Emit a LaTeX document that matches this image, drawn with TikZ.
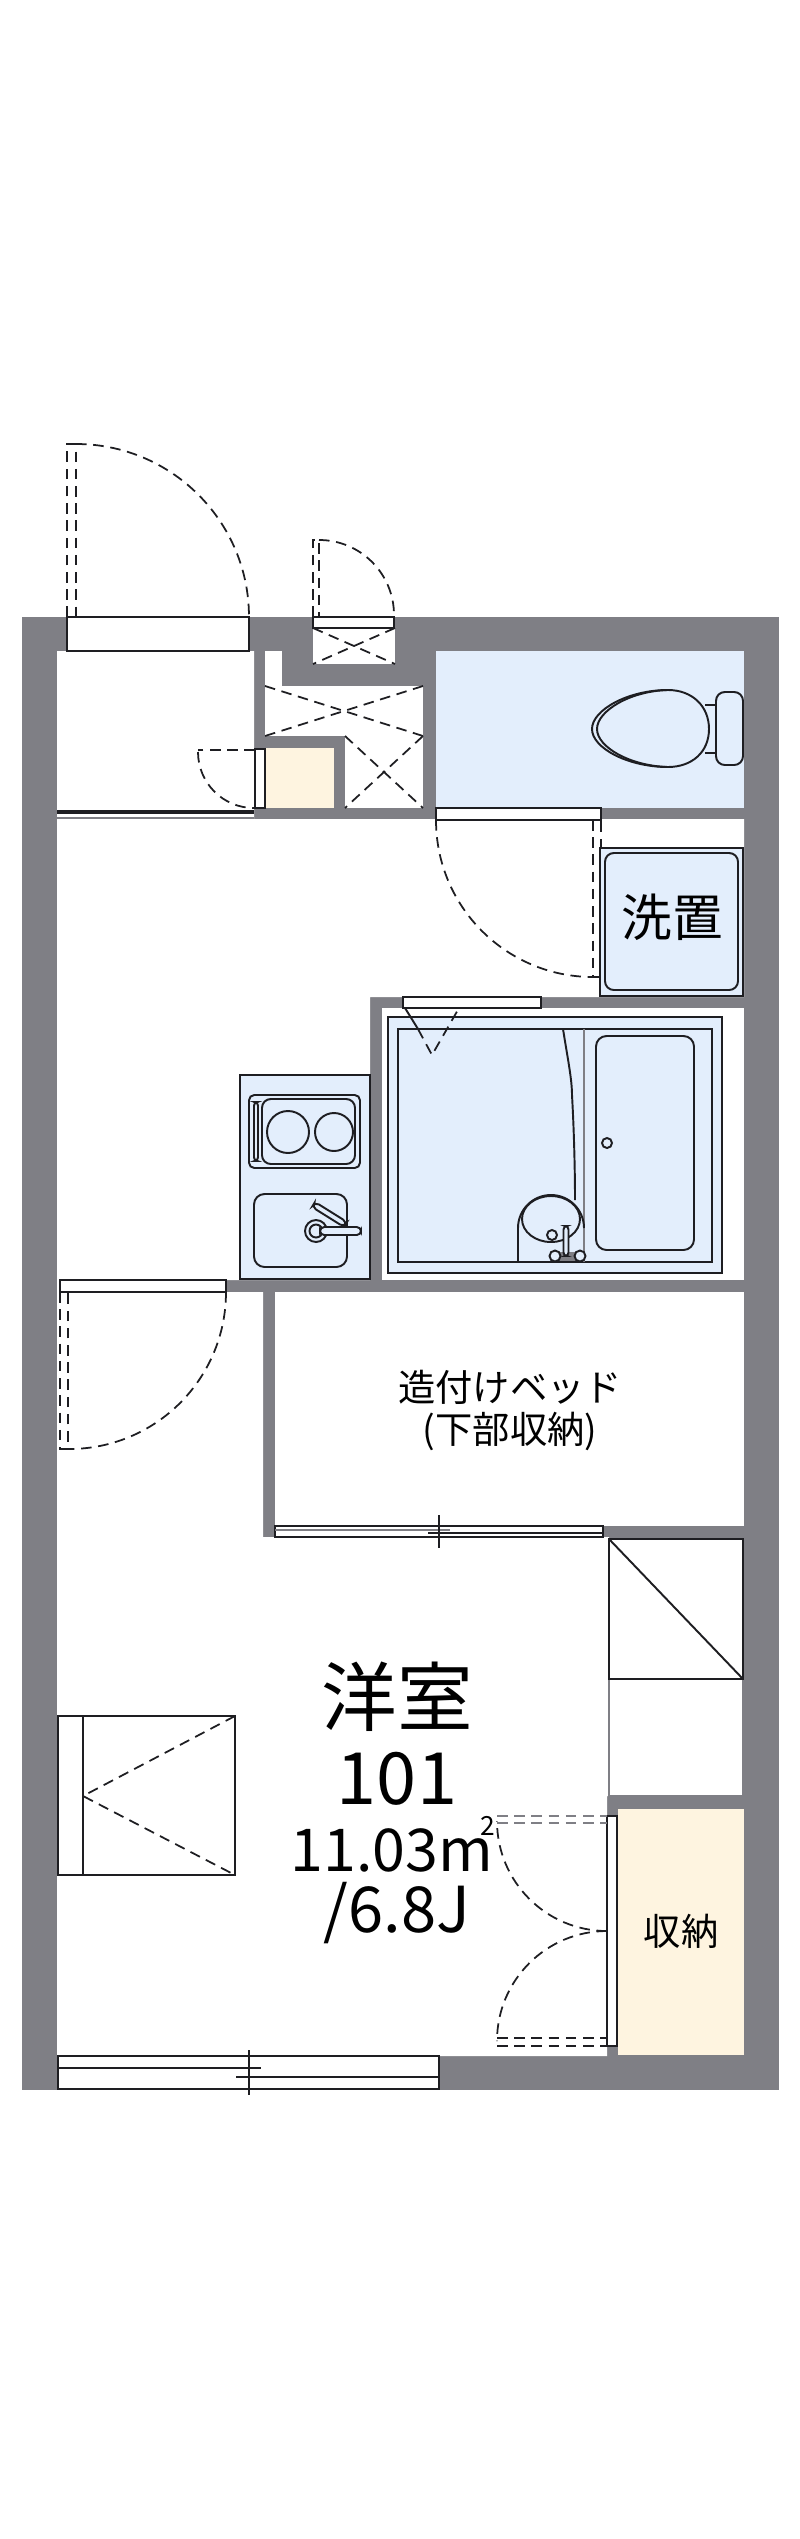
\documentclass[tikz,border=0pt]{standalone}
\usepackage{fontspec}
\setmainfont{Noto Sans CJK JP}
\usetikzlibrary{positioning}
\definecolor{wallgray}{HTML}{7F7F85}
\definecolor{wetblue}{HTML}{E3EEFC}
\definecolor{storebeige}{HTML}{FEF4E0}
\definecolor{inkline}{HTML}{1E1E22}

\begin{document}
\begin{tikzpicture}[
        x=0.01cm, y=0.01cm,
        every node/.style={text=black, inner sep=0pt, align=center},
        solidline/.style={draw=inkline, line width=0.55pt},
        fixture/.style={solidline, fill=wetblue},
        openbox/.style={solidline, fill=white},
        dashline/.style={draw=inkline, line width=0.5pt, dash pattern=on 3pt off 1.9pt},
        biglabel/.style={font=\fontsize{21.5pt}{21.5pt}\selectfont},
        numlabel/.style={font=\fontsize{20.5pt}{20.5pt}\selectfont},
        midlabel/.style={font=\fontsize{18pt}{18pt}\selectfont},
        arealabel/.style={font=\fontsize{16.8pt}{16.8pt}\selectfont},
        washlabel/.style={font=\fontsize{14.4pt}{14.4pt}\selectfont},
        smalllabel/.style={font=\fontsize{10.6pt}{10.6pt}\selectfont}
    ]
    \useasboundingbox (0,0) rectangle (800,-2539);

    % Walls and rooms
    \fill[wallgray] (22,-617) rectangle (779,-2090);
    \fill[white] (57,-651) -- (254,-651) -- (254,-819) -- (744,-819) -- (744,-997) -- (370,-997) -- (370,-1280)
        -- (226,-1280) -- (226,-1292) -- (263,-1292) -- (263,-1537) -- (609,-1537) -- (609,-1796) -- (607,-1796)
        -- (607,-2056) -- (57,-2056) -- cycle;
    \fill[white] (382,-1008) rectangle (744,-1280);
    \fill[white] (275,-1292) rectangle (744,-1526);
    \fill[white] (609,-1538) rectangle (743,-1796);
    \fill[white] (265,-651) rectangle (282,-686);
    \fill[white] (265,-686) rectangle (423,-736);
    \fill[white] (345,-736) rectangle (423,-808);
    \fill[white] (313,-628) rectangle (395,-664);
    \fill[wetblue] (436,-651) rectangle (744,-808);
    \fill[storebeige] (266,-748) rectangle (334,-808);
    \fill[storebeige] (618,-1809) rectangle (744,-2055);

    % Entrance
    \draw[openbox] (67,-617) rectangle (249,-651);
    \draw[dashline] (67,-617) -- (67,-444) -- (76,-444) -- (76,-617);
    \draw[dashline] (76,-444) arc[start angle=90, end angle=0, radius=173];
    \draw[solidline, line width=0.9pt] (57,-812) -- (254,-812);
    \draw[draw=wallgray, line width=0.45pt] (57,-818) -- (254,-818);

    % Meter box
    \draw[openbox] (313,-617) rectangle (394,-628);
    \draw[dashline] (313,-617) -- (313,-540) -- (319,-540) -- (319,-617);
    \draw[dashline] (319,-540) arc[start angle=90, end angle=0, radius=75];
    \draw[dashline] (313,-628) -- (395,-664);
    \draw[dashline] (395,-628) -- (313,-664);

    % Shaft crosses
    \draw[dashline] (265,-686) -- (423,-736);
    \draw[dashline] (423,-686) -- (265,-736);
    \draw[dashline] (345,-736) -- (423,-808);
    \draw[dashline] (423,-736) -- (345,-808);

    % Cupboard door in the hall
    \draw[openbox] (255,-749) rectangle (265,-808);
    \draw[dashline, line width=0.8pt] (255,-750) -- (198,-750);
    \draw[dashline] (198,-752) arc[start angle=180, end angle=270, radius=56];

    % Toilet
    \draw[openbox] (436,-808) rectangle (601,-820);
    \draw[dashline] (436,-820) arc[start angle=180, end angle=270, radius=157];
    \draw[dashline] (593,-820) -- (593,-977) -- (601,-977) -- (601,-820);
    \draw[fixture, rounded corners=2.5pt] (716,-692) rectangle (743,-765);
    \draw[solidline] (705,-705) -- (716,-705) (705,-753) -- (716,-753);
    \draw[fixture] (592,-729) .. controls (592,-710) and (628,-690) .. (668,-690)
        .. controls (692,-690) and (709,-706) .. (709,-729)
        .. controls (709,-752) and (692,-767) .. (668,-767)
        .. controls (628,-767) and (592,-748) .. (592,-729) -- cycle;
    \draw[solidline] (597,-729) .. controls (597,-711) and (630,-691) .. (668,-690);
    \draw[solidline] (597,-729) .. controls (597,-747) and (630,-766) .. (668,-767);

    % Washer pan
    \draw[fixture] (600,-848) rectangle (743,-996);
    \draw[solidline, rounded corners=2.5pt] (605,-853) rectangle (738,-990);
    \node[washlabel] (washer) at (672,-917) {洗置};

    % Bath unit
    \draw[fixture] (388,-1017) rectangle (722,-1273);
    \draw[solidline, line width=0.7pt] (398,-1029) rectangle (712,-1262);
    \draw[draw=wallgray, line width=0.7pt] (584,-1029) -- (584,-1262);
    \draw[solidline, rounded corners=3pt] (596,-1036) rectangle (694,-1250);
    \draw[solidline] (607,-1143) circle[radius=5];
    \draw[solidline] (563,-1029) .. controls (568,-1060) and (572,-1080) .. (572,-1095) .. controls (574,-1130) and (575,-1170) .. (575,-1200);
    \draw[openbox] (403,-997) rectangle (541,-1008);
    \draw[solidline] (405,-1008) -- (418,-1029);
    \draw[dashline] (418,-1029) -- (432,-1055) -- (459,-1008);
    \draw[solidline] (518,-1262) -- (518,-1228) arc[start angle=180, end angle=0, x radius=33, y radius=33];
    \draw[solidline] (551,-1219) ellipse[x radius=29, y radius=23];
    \draw[solidline] (552,-1235) circle[radius=5];
    \fill[wallgray] (555,-1252) rectangle (580,-1261);
    \draw[fixture, rounded corners=1pt] (563.5,-1226) rectangle (568.5,-1256);
    \draw[fixture] (555,-1256) circle[radius=5.5];
    \draw[fixture] (580,-1256) circle[radius=5.5];

    % Kitchen
    \draw[fixture, line width=0.6pt] (240,-1075) rectangle (370,-1279);
    \draw[solidline, rounded corners=1.5pt] (249,-1095) rectangle (360,-1168);
    \draw[solidline, rounded corners=2.5pt] (262,-1099) rectangle (355,-1164);
    \draw[solidline, rounded corners=1pt] (254,-1102) rectangle (258,-1161);
    \draw[solidline] (288,-1132) circle[radius=21];
    \draw[solidline] (334,-1132) circle[radius=19];
    \draw[solidline, rounded corners=3pt] (254,-1194) rectangle (347,-1267);
    \draw[fixture, rounded corners=1.3pt] (312,-1207) -- (315,-1202) -- (347,-1222) -- (344,-1227) -- cycle;
    \draw[solidline] (316,-1231) circle[radius=11];
    \draw[fixture] (316,-1231) circle[radius=6.5];
    \draw[fixture, rounded corners=1.2pt] (320,-1227) rectangle (361,-1235);

    % Room door and closet
    \draw[openbox] (60,-1280) rectangle (226,-1292);
    \draw[dashline] (226,-1292) arc[start angle=0, end angle=-90, radius=157];
    \draw[dashline] (60,-1292) -- (60,-1449) -- (68,-1449) -- (68,-1292);
    \draw[openbox] (275,-1526) rectangle (603,-1537);
    \draw[solidline, draw=wallgray] (275,-1530) -- (450,-1530);
    \draw[solidline] (428,-1533) -- (603,-1533);
    \draw[solidline] (439,-1515) -- (439,-1548);
    \node[smalllabel] (bedlabel) at (510,-1387) {造付けベッド};
    \node[smalllabel, below=0.07cm of bedlabel] (bedunder) {(下部収納)};

    % Shelf boxes on the right
    \draw[solidline, draw=wallgray] (609,-1679) rectangle (743,-1796);
    \draw[solidline, line width=0.7pt] (609,-1539) rectangle (743,-1679);
    \draw[solidline] (609,-1539) -- (743,-1679);

    % Storage and its double door
    \draw[openbox] (607,-1816) rectangle (617,-2046);
    \draw[dashline] (607,-1931) arc[start angle=270, end angle=180, radius=110];
    \draw[dashline] (607,-1931) arc[start angle=90, end angle=180, radius=110];
    \draw[dashline, draw=wallgray] (497,-1816) -- (607,-1816) (497,-1823) -- (607,-1823);
    \draw[dashline] (497,-2038) -- (607,-2038) (497,-2046) -- (607,-2046);
    \node[smalllabel] (storelabel) at (681,-1931) {収納};

    % Bed-shelf by the left wall
    \draw[openbox] (58,-1716) rectangle (235,-1875);
    \draw[solidline] (83,-1716) -- (83,-1875);
    \draw[dashline] (235,-1716) -- (83,-1796) -- (235,-1875);

    % Sliding window
    \draw[openbox] (58,-2056) rectangle (439,-2089);
    \draw[solidline] (58,-2068) -- (261,-2068);
    \draw[solidline] (236,-2077) -- (439,-2077);
    \draw[solidline] (249,-2050) -- (249,-2095);

    % Room text
    \node[biglabel] (roomname) at (397,-1697) {洋室};
    \node[numlabel, below=0.19cm of roomname] (roomnumber) {101};
    \node[arealabel, anchor=base west] (roomarea) at (290,-1871) {11.03m\kern-3.6pt\raisebox{10.2pt}{\fontsize{7.5pt}{7.5pt}\selectfont 2}};
    \node[midlabel, anchor=base] (roomjo) at (397,-1932) {/6.8J};
\end{tikzpicture}
\end{document}
